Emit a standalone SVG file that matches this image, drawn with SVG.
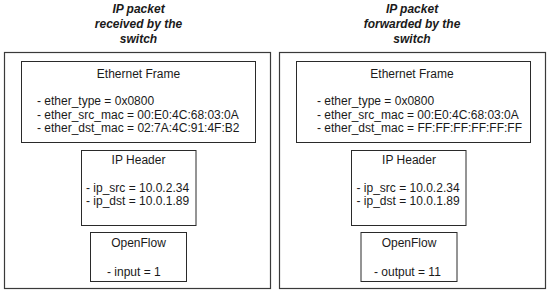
<svg xmlns="http://www.w3.org/2000/svg" width="550" height="295" viewBox="0 0 550 295">
<style>
.bg{fill:#ffffff}
.outer{fill:#ffffff;stroke:#3a3a3a;stroke-width:1.2}
.box{fill:#ffffff;stroke:#2a2a2a;stroke-width:1}
text{font-family:"Liberation Sans",Arial,sans-serif;font-size:12px;fill:#1a1a1a}
.title{font-weight:bold;font-style:italic;text-anchor:middle}
.mid{text-anchor:middle}
</style>
<rect class="bg" x="0" y="0" width="550" height="295"/>
<g id="left-panel">
  <text class="title" x="138.5" y="13">IP packet</text>
  <text class="title" x="138.5" y="28">received by the</text>
  <text class="title" x="138.5" y="42.5">switch</text>
  <rect class="outer" x="4.5" y="52.5" width="266" height="236"/>
</g>
<g id="left-ethernet">
  <rect class="box" x="21.5" y="61.5" width="234" height="81"/>
  <text class="mid" x="138.5" y="78">Ethernet Frame</text>
  <text x="37" y="105">- ether_type = 0x0800</text>
  <text x="37" y="118.5">- ether_src_mac = 00:E0:4C:68:03:0A</text>
  <text x="37" y="132">- ether_dst_mac = 02:7A:4C:91:4F:B2</text>
</g>
<g id="left-ip">
  <rect class="box" x="81.5" y="150.5" width="114.5" height="75"/>
  <text class="mid" x="138.5" y="164">IP Header</text>
  <text x="86" y="191.5">- ip_src = 10.0.2.34</text>
  <text x="86" y="205">- ip_dst = 10.0.1.89</text>
</g>
<g id="left-openflow">
  <rect class="box" x="90.5" y="232.5" width="96" height="49"/>
  <text class="mid" x="138.5" y="247">OpenFlow</text>
  <text x="107" y="276">- input = 1</text>
</g>
<g id="right-panel">
  <text class="title" x="412" y="13">IP packet</text>
  <text class="title" x="412" y="28">forwarded by the</text>
  <text class="title" x="412" y="42.5">switch</text>
  <rect class="outer" x="279.5" y="52.5" width="266" height="236"/>
</g>
<g id="right-ethernet">
  <rect class="box" x="296.5" y="61.5" width="234" height="81"/>
  <text class="mid" x="412" y="78">Ethernet Frame</text>
  <text x="317" y="105">- ether_type = 0x0800</text>
  <text x="317" y="118.5">- ether_src_mac = 00:E0:4C:68:03:0A</text>
  <text x="317" y="132">- ether_dst_mac = FF:FF:FF:FF:FF:FF</text>
</g>
<g id="right-ip">
  <rect class="box" x="351.5" y="150.5" width="114.5" height="75"/>
  <text class="mid" x="409" y="164">IP Header</text>
  <text x="356.5" y="191.5">- ip_src = 10.0.2.34</text>
  <text x="356.5" y="205">- ip_dst = 10.0.1.89</text>
</g>
<g id="right-openflow">
  <rect class="box" x="361" y="232.5" width="96" height="49"/>
  <text class="mid" x="409" y="247">OpenFlow</text>
  <text x="374" y="276">- output = 11</text>
</g>
<g id="connectors"/>
</svg>
